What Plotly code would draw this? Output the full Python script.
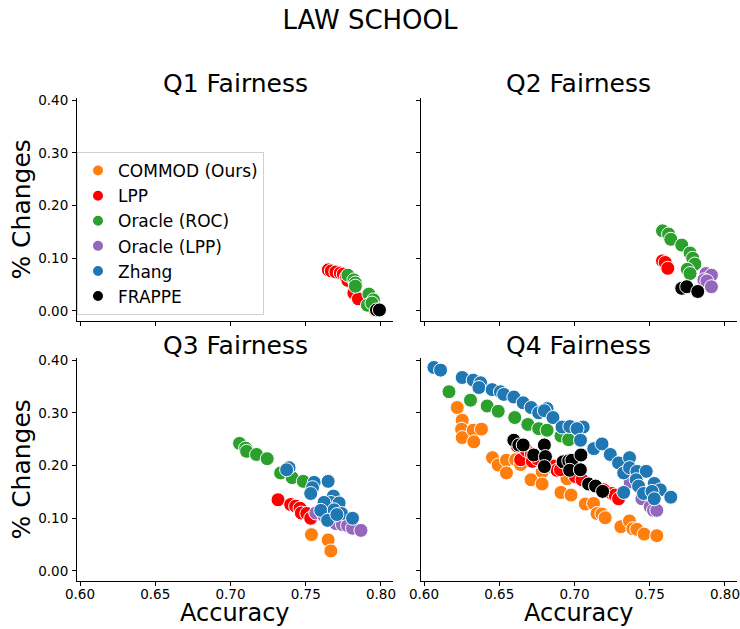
import plotly.graph_objects as go
from plotly.subplots import make_subplots

# series names / colours (legend order)
names = ["COMMOD (Ours)", "LPP", "Oracle (ROC)", "Oracle (LPP)", "Zhang", "FRAPPE"]
colors = ["#ff7f0e", "#ff0000", "#2ca02c", "#9467bd", "#1f77b4", "#000000"]

# Q1 fairness
q1_commod_acc = [0.796]
q1_commod_chg = [0.002]
q1_lpp_acc = [0.765, 0.767, 0.770, 0.773, 0.775, 0.777, 0.778, 0.782, 0.785]
q1_lpp_chg = [0.078, 0.076, 0.074, 0.072, 0.070, 0.064, 0.058, 0.034, 0.023]
q1_roc_acc = [0.778, 0.782, 0.783, 0.783, 0.792, 0.795, 0.791, 0.794]
q1_roc_chg = [0.068, 0.059, 0.053, 0.047, 0.032, 0.021, 0.011, 0.015]
q1_olpp_acc = []
q1_olpp_chg = []
q1_zhang_acc = []
q1_zhang_chg = []
q1_frappe_acc = [0.797, 0.799]
q1_frappe_chg = [0.002, 0.002]

# Q2 fairness
q2_commod_acc = []
q2_commod_chg = []
q2_lpp_acc = [0.7585, 0.7603, 0.762]
q2_lpp_chg = [0.095, 0.092, 0.081]
q2_roc_acc = [0.7585, 0.7625, 0.764, 0.7713, 0.7768, 0.7786, 0.780, 0.775, 0.7768]
q2_roc_chg = [0.152, 0.146, 0.136, 0.125, 0.110, 0.100, 0.089, 0.079, 0.071]
q2_olpp_acc = [0.7874, 0.791, 0.786, 0.788, 0.791]
q2_olpp_chg = [0.071, 0.068, 0.059, 0.057, 0.046]
q2_zhang_acc = []
q2_zhang_chg = []
q2_frappe_acc = [0.7713, 0.7746, 0.7819]
q2_frappe_chg = [0.043, 0.046, 0.037]

# Q3 fairness
q3_commod_acc = [0.7538, 0.7649, 0.7667]
q3_commod_chg = [0.069, 0.059, 0.038]
q3_lpp_acc = [0.7316, 0.740, 0.7433, 0.7462, 0.7471, 0.7507, 0.7533]
q3_lpp_chg = [0.135, 0.126, 0.123, 0.119, 0.110, 0.109, 0.100]
q3_roc_acc = [0.706, 0.710, 0.7107, 0.7173, 0.7244, 0.7333, 0.741, 0.7484]
q3_roc_chg = [0.242, 0.233, 0.227, 0.221, 0.213, 0.186, 0.177, 0.170]
q3_olpp_acc = [0.7567, 0.762, 0.766, 0.770, 0.7744, 0.7778, 0.7811, 0.7867]
q3_olpp_chg = [0.110, 0.105, 0.098, 0.090, 0.088, 0.086, 0.081, 0.077]
q3_zhang_acc = [0.7389, 0.7373, 0.7556, 0.7649, 0.7545, 0.7533, 0.7684, 0.7667,
                0.7622, 0.7722, 0.760, 0.7689, 0.7738, 0.7811, 0.7645, 0.7707]
q3_zhang_chg = [0.196, 0.192, 0.168, 0.170, 0.158, 0.147, 0.142, 0.130,
                0.130, 0.129, 0.115, 0.116, 0.109, 0.100, 0.096, 0.107]
q3_frappe_acc = []
q3_frappe_chg = []

# Q4 fairness
q4_commod_acc = [0.6221, 0.6254, 0.625, 0.6254, 0.6327, 0.6331, 0.6382, 0.6455, 0.6493, 0.6548,
                 0.6548, 0.6609, 0.6642, 0.6711, 0.6785, 0.6785, 0.695, 0.691, 0.6977, 0.7072,
                 0.7127, 0.715, 0.7182, 0.7204, 0.7308, 0.7365, 0.7388, 0.7414, 0.7463, 0.7547]
q4_commod_chg = [0.310, 0.286, 0.269, 0.253, 0.267, 0.245, 0.269, 0.215, 0.201, 0.210,
                 0.186, 0.211, 0.202, 0.173, 0.188, 0.165, 0.175, 0.149, 0.144, 0.127,
                 0.128, 0.109, 0.108, 0.101, 0.084, 0.095, 0.080, 0.079, 0.070, 0.067]
q4_lpp_acc = [0.662, 0.6642, 0.668, 0.6714, 0.672, 0.6752, 0.6851, 0.6863,
              0.6884, 0.6907, 0.7006, 0.705, 0.7193, 0.7249, 0.727, 0.7293]
q4_lpp_chg = [0.237, 0.211, 0.229, 0.222, 0.208, 0.213, 0.198, 0.199,
              0.191, 0.192, 0.179, 0.173, 0.154, 0.147, 0.144, 0.137]
q4_roc_acc = [0.6166, 0.6309, 0.642, 0.6493, 0.6603, 0.669, 0.6762, 0.6818, 0.691, 0.6961]
q4_roc_chg = [0.340, 0.324, 0.313, 0.303, 0.291, 0.278, 0.270, 0.267, 0.256, 0.249]
q4_olpp_acc = [0.737, 0.7448, 0.7503, 0.7525, 0.7547]
q4_olpp_chg = [0.169, 0.137, 0.122, 0.115, 0.115]
q4_zhang_acc = [0.6066, 0.611, 0.6254, 0.6327, 0.6376, 0.6365, 0.6453, 0.6508, 0.653, 0.6597,
                0.6659, 0.6712, 0.6762, 0.6818, 0.680, 0.6857, 0.6917, 0.6969, 0.7058, 0.7017,
                0.704, 0.7128, 0.7183, 0.7238, 0.7293, 0.7366, 0.7327, 0.7366, 0.7415, 0.7477,
                0.741, 0.7426, 0.753, 0.757, 0.7459, 0.7515, 0.753, 0.764, 0.7327]
q4_zhang_chg = [0.386, 0.381, 0.367, 0.362, 0.357, 0.348, 0.344, 0.340, 0.335, 0.330,
                0.319, 0.310, 0.300, 0.308, 0.304, 0.291, 0.273, 0.274, 0.273, 0.270,
                0.248, 0.232, 0.241, 0.221, 0.205, 0.215, 0.186, 0.196, 0.189, 0.189,
                0.173, 0.161, 0.166, 0.154, 0.147, 0.151, 0.137, 0.140, 0.149]
q4_frappe_acc = [0.6597, 0.663, 0.6659, 0.6729, 0.680, 0.6807, 0.680, 0.6924,
                 0.6962, 0.6983, 0.7043, 0.6968, 0.7039, 0.7094, 0.714, 0.7187]
q4_frappe_chg = [0.248, 0.239, 0.239, 0.220, 0.239, 0.217, 0.198, 0.207,
                 0.209, 0.210, 0.220, 0.191, 0.192, 0.165, 0.161, 0.151]

panels = [
    ("Q1 Fairness", 1, 1, [(q1_commod_acc, q1_commod_chg), (q1_lpp_acc, q1_lpp_chg),
                           (q1_roc_acc, q1_roc_chg), (q1_olpp_acc, q1_olpp_chg),
                           (q1_zhang_acc, q1_zhang_chg), (q1_frappe_acc, q1_frappe_chg)]),
    ("Q2 Fairness", 1, 2, [(q2_commod_acc, q2_commod_chg), (q2_lpp_acc, q2_lpp_chg),
                           (q2_roc_acc, q2_roc_chg), (q2_olpp_acc, q2_olpp_chg),
                           (q2_zhang_acc, q2_zhang_chg), (q2_frappe_acc, q2_frappe_chg)]),
    ("Q3 Fairness", 2, 1, [(q3_commod_acc, q3_commod_chg), (q3_lpp_acc, q3_lpp_chg),
                           (q3_roc_acc, q3_roc_chg), (q3_olpp_acc, q3_olpp_chg),
                           (q3_zhang_acc, q3_zhang_chg), (q3_frappe_acc, q3_frappe_chg)]),
    ("Q4 Fairness", 2, 2, [(q4_commod_acc, q4_commod_chg), (q4_lpp_acc, q4_lpp_chg),
                           (q4_roc_acc, q4_roc_chg), (q4_olpp_acc, q4_olpp_chg),
                           (q4_zhang_acc, q4_zhang_chg), (q4_frappe_acc, q4_frappe_chg)]),
]

FONT = "DejaVu Sans"

fig = make_subplots(rows=2, cols=2, shared_xaxes=True, shared_yaxes=True,
                    horizontal_spacing=0.0424, vertical_spacing=0.0766)

for title, r, c, series in panels:
    for i, (xs, ys) in enumerate(series):
        fig.add_trace(go.Scatter(
            x=xs, y=ys, mode="markers", name=names[i],
            legendgroup=names[i], showlegend=(title == "Q4 Fairness"),
            marker=dict(size=14, color=colors[i], line=dict(color="white", width=1)),
        ), row=r, col=c)

# subplot titles
title_pos = {"Q1 Fairness": (0.2394, 1.031), "Q2 Fairness": (0.7606, 1.031),
             "Q3 Fairness": (0.2394, 0.4886), "Q4 Fairness": (0.7606, 0.4886)}
for t, (x, y) in title_pos.items():
    fig.add_annotation(text=t, x=x, y=y, xref="paper", yref="paper",
                       xanchor="center", yanchor="middle", showarrow=False,
                       font=dict(family=FONT, size=25, color="black"))

# axis titles
for x in (0.2394, 0.7606):
    fig.add_annotation(text="Accuracy", x=x, y=-0.066, xref="paper", yref="paper",
                       xanchor="center", yanchor="middle", showarrow=False,
                       font=dict(family=FONT, size=24, color="black"))
for y in (0.769, 0.2308):
    fig.add_annotation(text="% Changes", x=-0.0833, y=y, xref="paper", yref="paper",
                       xanchor="center", yanchor="middle", showarrow=False, textangle=-90,
                       font=dict(family=FONT, size=25, color="black"))

axis_style = dict(showline=True, linecolor="black", linewidth=1, ticks="outside",
                  ticklen=4, tickcolor="black", showgrid=False, zeroline=False,
                  automargin=False, ticklabeloverflow="allow",
                  tickfont=dict(family=FONT, size=13.5, color="black"))

fig.update_xaxes(range=[0.598, 0.808], tickvals=[0.60, 0.65, 0.70, 0.75, 0.80],
                 tickformat=".2f", ticklabelstandoff=-3, **axis_style)
fig.update_yaxes(range=[-0.019, 0.404], tickvals=[0.0, 0.1, 0.2, 0.3, 0.4],
                 tickformat=".2f", ticklabelstandoff=1, **axis_style)

fig.update_layout(
    width=740, height=629,
    margin=dict(l=77, r=3, t=98, b=48, autoexpand=False),
    paper_bgcolor="white", plot_bgcolor="white",
    font=dict(family=FONT, color="black"),
    title=dict(text="LAW SCHOOL", x=0.5, xanchor="center", y=0.968, yanchor="middle",
               font=dict(family=FONT, size=26, color="black")),
    legend=dict(x=0.0, y=0.5507, xanchor="left", yanchor="bottom",
                bgcolor="rgba(255,255,255,0.8)", bordercolor="#d0d0d0", borderwidth=1,
                font=dict(family=FONT, size=17, color="black"),
                tracegroupgap=0, itemsizing="constant"),
    showlegend=True,
)

# drop the default page margin so the figure sits at the window's corner
fig.write_html("out.html", post_script="document.body.style.margin = '0';",
               config={"displayModeBar": False})
